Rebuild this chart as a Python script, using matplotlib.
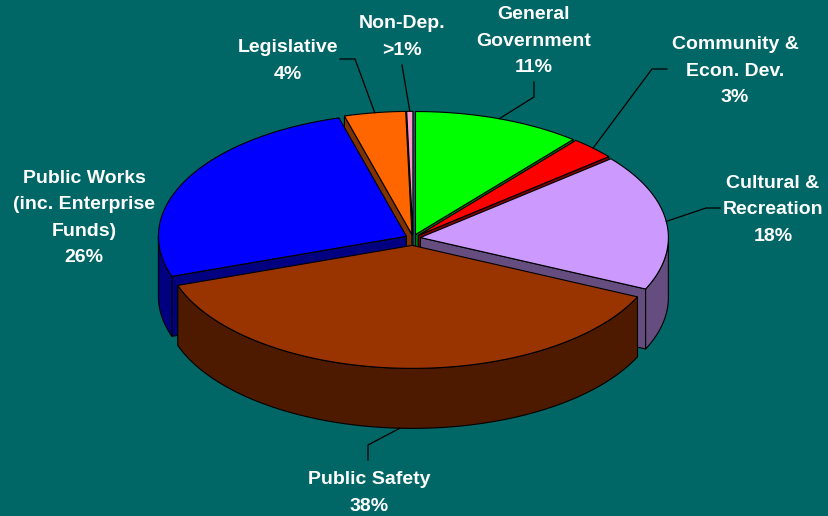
import numpy as np
import matplotlib
matplotlib.use("Agg")
import matplotlib.pyplot as plt
from matplotlib.patches import Polygon
from matplotlib.colors import to_rgb

# ---------------------------------------------------------------------------
# Data
# ---------------------------------------------------------------------------
names = ["General\nGovernment", "Community &\nEcon. Dev.", "Cultural &\nRecreation",
         "Public Safety", "Public Works\n(inc. Enterprise\nFunds)", "Legislative",
         "Non-Dep."]
shares = [11, 3, 18, 38, 26, 4, 0.4]
pct_labels = ["11%", "3%", "18%", "38%", "26%", "4%", ">1%"]

# ---------------------------------------------------------------------------
# Style / layout
# ---------------------------------------------------------------------------
BG = "#006666"
top_colors = ["#00FF00", "#FF0000", "#CC99FF", "#993300", "#0000FF", "#FF6600", "#FF99CC"]
explode = [0.03, 0.03, 0.03, 0.06, 0.03, 0.03, 0.03]

W, H = 829, 516
CX, CY = 413, 238      # pie centre (pixels)
RX, RY = 248, 123      # ellipse radii
DEPTH = 60             # thickness of the pie

# label block centres and leader-line elbows (label side -> slice)
label_pos = [(534, 41), (735, 71), (773, 210), (369, 493), (84, 218), (288, 61), (402, 37)]
leader_elbows = [[(534, 82), (534, 97)],
                 [(667, 69), (652, 69)],
                 [(720, 208), (706, 208)],
                 [(368, 460), (368, 445)],
                 None,
                 [(340, 59), (355, 59)],
                 [(402, 65)]]


def darken(c, k=0.5):
    r, g, b = to_rgb(c)
    return (r * k, g * k, b * k)


def edge(t, dx, dy):
    t = np.radians(t)
    return CX + RX * np.cos(t) + dx, CY - RY * np.sin(t) + dy


fig = plt.figure(figsize=(W / 100, H / 100), dpi=100, facecolor=BG)
ax = fig.add_axes([0, 0, 1, 1])
ax.set_facecolor(BG)
ax.set_xlim(0, W)
ax.set_ylim(H, 0)
ax.axis("off")

# slice angles, clockwise from 12 o'clock
frac = np.array(shares) / sum(shares)
spans = []
start = 90.0
for f in frac:
    spans.append((start - 360 * f, start))
    start -= 360 * f

mids = [(a + b) / 2 for a, b in spans]
order = sorted(range(len(shares)), key=lambda i: -np.sin(np.radians(mids[i])))

kw = dict(edgecolor="black", linewidth=0.8, joinstyle="round")
anchors = {}
for i in order:
    t1, t2 = spans[i]
    m = np.radians(mids[i])
    dx = explode[i] * RX * np.cos(m)
    dy = -explode[i] * RY * np.sin(m)
    top = top_colors[i]
    side = darken(top)

    # radial cut faces
    for t, vis in ((t1, np.cos(np.radians(t1)) > 0), (t2, np.cos(np.radians(t2)) < 0)):
        if vis:
            x1, y1 = edge(t, dx, dy)
            pts = [(CX + dx, CY + dy), (x1, y1), (x1, y1 + DEPTH), (CX + dx, CY + dy + DEPTH)]
            ax.add_patch(Polygon(pts, closed=True, facecolor=side, **kw))

    # outer curved wall (front half only)
    for k in range(-2, 3):
        a, b = max(t1, -180 + 360 * k), min(t2, 360 * k)
        if a < b:
            ts = np.linspace(a, b, 80)
            xs, ys = edge(ts, dx, dy)
            pts = list(zip(xs, ys)) + list(zip(xs[::-1], ys[::-1] + DEPTH))
            ax.add_patch(Polygon(pts, closed=True, facecolor=side, **kw))

    # top face
    ts = np.linspace(t1, t2, 200)
    xs, ys = edge(ts, dx, dy)
    pts = [(CX + dx, CY + dy)] + list(zip(xs, ys))
    ax.add_patch(Polygon(pts, closed=True, facecolor=top, **kw))

    ax_, ay_ = edge(mids[i], dx, dy)
    if np.sin(m) < 0:
        ay_ += DEPTH
    anchors[i] = (ax_, ay_)

# leader lines
for i, elb in enumerate(leader_elbows):
    if elb is None:
        continue
    pts = elb + [anchors[i]]
    ax.plot([p[0] for p in pts], [p[1] for p in pts], color="black", linewidth=0.9)

# labels
for i, (name, pct) in enumerate(zip(names, pct_labels)):
    x, y = label_pos[i]
    ax.text(x, y, f"{name}\n{pct}", ha="center", va="center", color="white",
            fontsize=14, fontweight="bold", family=["Liberation Sans", "DejaVu Sans"],
            linespacing=1.72)

fig.savefig("out.png", dpi=100, facecolor=BG)
